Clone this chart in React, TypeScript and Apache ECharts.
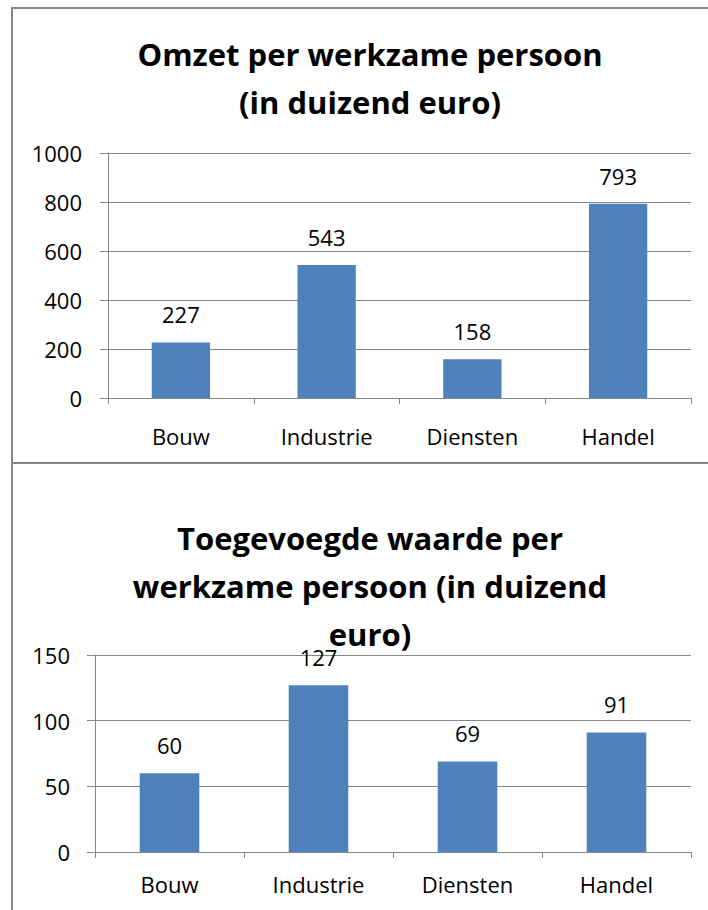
import React, { useEffect, useRef } from "react";
import * as echarts from "echarts";

const categories = ["Bouw", "Industrie", "Diensten", "Handel"];
const omzetValues = [227, 543, 158, 793];
const toegevoegdeValues = [60, 127, 69, 91];
const title1 = "Omzet per werkzame persoon\n(in duizend euro)";
const title2 = "Toegevoegde waarde per\nwerkzame persoon (in duizend\neuro)";

const FONT = "Open Sans";
const GRAY = "#868686";
const BAR = "#4F81BD";

export default function App() {
  const ref = useRef<HTMLDivElement>(null);
  useEffect(() => {
    if (!ref.current) return;
    const chart = echarts.init(ref.current, undefined, { renderer: "svg" });
    const yAxisCommon = {
      type: "value" as const,
      axisLine: { show: true, lineStyle: { color: GRAY, width: 1 } },
      axisTick: { show: true, length: 8, lineStyle: { color: GRAY } },
      splitLine: { show: true, lineStyle: { color: GRAY, width: 1 } },
      axisLabel: {
        color: "#000",
        fontFamily: FONT,
        fontSize: 22,
        formatter: (v: number) => String(v),
      },
    };
    const xAxisCommon = {
      type: "category" as const,
      data: categories,
      axisLine: { show: true, lineStyle: { color: GRAY, width: 1 } },
      axisTick: { show: true, length: 6, alignWithLabel: false, lineStyle: { color: GRAY } },
      axisLabel: { color: "#000", fontFamily: FONT, fontSize: 22 },
    };
    const labelCommon = {
      show: true,
      position: "top" as const,
      distance: 17,
      color: "#000",
      fontFamily: FONT,
      fontSize: 22,
    };
    const titleStyle = { fontFamily: FONT, fontWeight: "bold" as const, fontSize: 31, lineHeight: 48, color: "#000" };
    chart.setOption({
      animation: false,
      backgroundColor: "#fff",
      title: [
        { text: title1, left: 365, top: 25, textAlign: "center", textStyle: titleStyle },
        { text: title2, left: 365, top: 509, textAlign: "center", textStyle: titleStyle },
      ],
      graphic: [
        {
          type: "rect",
          shape: { x: 12, y: 8, width: 720, height: 455 },
          style: { fill: "none", stroke: GRAY, lineWidth: 2 },
          silent: true,
        },
        {
          type: "rect",
          shape: { x: 12, y: 463, width: 720, height: 470 },
          style: { fill: "none", stroke: GRAY, lineWidth: 2 },
          silent: true,
        },
      ],
      grid: [
        { left: 108, right: 17, top: 153, height: 245 },
        { left: 95, right: 17, top: 655, height: 197 },
      ],
      xAxis: [
        { ...xAxisCommon, gridIndex: 0, axisLabel: { ...xAxisCommon.axisLabel, margin: 27 } },
        { ...xAxisCommon, gridIndex: 1, axisLabel: { ...xAxisCommon.axisLabel, margin: 21 } },
      ],
      yAxis: [
        { ...yAxisCommon, gridIndex: 0, min: 0, max: 1000, interval: 200, axisLabel: { ...yAxisCommon.axisLabel, margin: 26 } },
        { ...yAxisCommon, gridIndex: 1, min: 0, max: 150, interval: 50, axisLabel: { ...yAxisCommon.axisLabel, margin: 25 } },
      ],
      series: [
        {
          type: "bar",
          xAxisIndex: 0,
          yAxisIndex: 0,
          data: omzetValues,
          barWidth: "40%",
          itemStyle: { color: BAR },
          label: labelCommon,
        },
        {
          type: "bar",
          xAxisIndex: 1,
          yAxisIndex: 1,
          data: toegevoegdeValues,
          barWidth: "40%",
          itemStyle: { color: BAR },
          label: labelCommon,
        },
      ],
    });
    return () => chart.dispose();
  }, []);
  return (
    <div
      ref={ref}
      style={{ position: "fixed", left: 0, top: 0, width: 708, height: 910 }}
    />
  );
}
